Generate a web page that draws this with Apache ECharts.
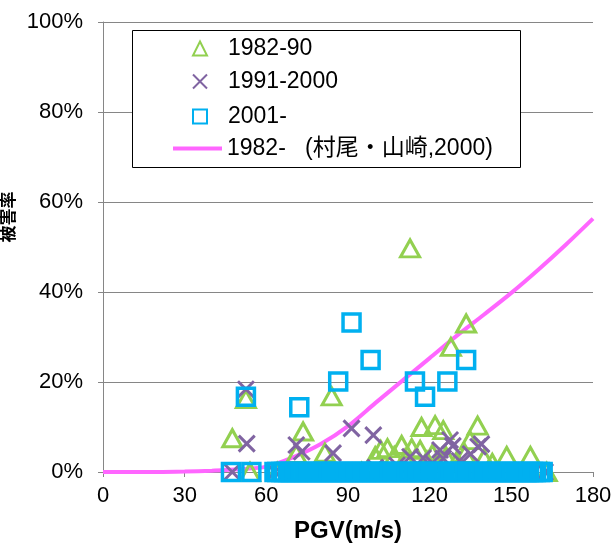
<!DOCTYPE html>
<html><head><meta charset="utf-8">
<script src="https://cdn.jsdelivr.net/npm/echarts@6/dist/echarts.min.js"></script>
<style>html,body{margin:0;padding:0;background:#fff;overflow:hidden}#c{width:614px;height:543px}</style>
</head><body><div id="c"></div>
<script>
// ---- data (PGV m/s, damage ratio %) ----
const xTicks = [0, 30, 60, 90, 120, 150, 180];
const yTicks = [0, 20, 40, 60, 80, 100];
const seriesNames = ['1982-90', '1991-2000', '2001-', '1982-   (村尾・山崎,2000)'];

const tri8290 = [
  [47.5,7.5],[52.5,16.2],[54,0],[64,0],[71,4],[73.5,9],[81.5,4.3],[84,16.8],[95,0],
  [100,3.5],[102,4.9],[104.5,5.3],[107,3.5],[109.7,6],[111,3],[113.4,5.3],[116.5,4.9],
  [119,2.5],[121,4],[123.5,3],[126,3.5],[130,2.5],[133,4],[134.8,7.1],[140,3],[143,2],
  [112.8,49.7],[133.4,33],[127.8,27.8],[117,10],[122,10.4],[125,9.3],[137.6,10.3],
  [148.3,3.6],[157,3.6],[130,0],[163,0]
];
const x9100 = [
  [47.5,0],[52.5,18.4],[52.8,6.3],[63.2,0],[71,6],[73,4.5],[84.5,4.2],[91.3,9.7],[99.3,8.2],
  [91.5,0],[100,1],[108,1.5],[112.8,3.4],[117.6,3.1],[121,2],[123.8,4.9],[125,3],[127.5,7.1],
  [128.5,5.8],[131,2.5],[135,4],[137.8,5.6],[139,6.2],[155,0],[162.4,0]
];
const sq2001 = [
  [47,0],[54.5,0],[52.5,16.7],[72.1,14.4],[86.4,20.1],[91.3,33.2],[98.3,24.9],[114.6,20.1],
  [118.3,16.7],[126.5,20.1],[133.4,24.9],
  [63,0],[64,0],[65.5,0],[66.5,0],[68,0],[69,0],[70.5,0],[71.5,0],[73,0],[74,0],[75.5,0],
  [76.5,0],[78,0],[79,0],[80.5,0],[81.5,0],[83,0],[84,0],[85.5,0],[86.5,0],[88,0],[89,0],
  [90.5,0],[91.5,0],[93,0],[94,0],[95.5,0],[96.5,0],[98,0],[99,0],[100.5,0],[101.5,0],
  [103,0],[104,0],[105.5,0],[106.5,0],[108,0],[109,0],[110.5,0],[111.5,0],[113,0],[114,0],
  [115.5,0],[116.5,0],[118,0],[119,0],[120.5,0],[121.5,0],[123,0],[124,0],[125.5,0],
  [126.5,0],[128,0],[129,0],[130.5,0],[131.5,0],[133,0],[134,0],[135.5,0],[136.5,0],
  [138,0],[139,0],[140.5,0],[141.5,0],[143,0],[144,0],[145.5,0],[146.5,0],[148,0],[149,0],
  [150.5,0],[151.5,0],[153,0],[154,0],[155.5,0],[156.5,0],[158,0],[159,0],[160.5,0],[161.5,0]
];
const curveX = [0,10,20,30,40,50,60,70,80,90,100,110,120,130,140,150,160,170,180];
const curveY = [0,0,0,0.1,0.3,0.6,1.2,3.3,6.2,10.2,15.3,20.3,25.3,30.3,35,39.8,45,50.5,56.3];

const GREEN = '#92D050', PURPLE = '#8064A2', CYAN = '#00B0F0', PINK = '#FF66FF', AXIS = '#868686';
const XPATH = 'path://M0,0 L10,10 M10,0 L0,10';
const FONT = 'Liberation Sans, Arial, sans-serif';

const chart = echarts.init(document.getElementById('c'), null, {renderer: 'canvas'});
const legendBase = (name, top, extra) => Object.assign({
  data: [name], left: 192, top: top, orient: 'vertical', padding: 0, z: 100,
  itemWidth: 14, itemHeight: 14, selectedMode: false,
  textStyle: {fontSize: 23, color: '#000', fontFamily: FONT + ', Noto Sans CJK JP', padding: [0, 0, 0, 16]},
  itemStyle: {borderWidth: 2}
}, extra || {});

chart.setOption({
  backgroundColor: '#fff',
  animation: false,
  grid: {left: 103, right: 21, top: 22, bottom: 71, containLabel: false, outerBoundsMode: 'none'},
  xAxis: {
    type: 'value', min: 0, max: 180, interval: 30,
    name: 'PGV(m/s)', nameLocation: 'middle', nameGap: 47,
    nameTextStyle: {fontSize: 24, fontWeight: 'bold', color: '#000', fontFamily: FONT},
    axisLine: {show: true, lineStyle: {color: AXIS, width: 1}},
    axisTick: {show: true, length: 5, lineStyle: {color: AXIS}},
    axisLabel: {fontSize: 22, color: '#000', margin: 13, fontFamily: FONT},
    splitLine: {show: false}
  },
  yAxis: {
    type: 'value', min: 0, max: 100, interval: 20,
    name: '被害率', nameLocation: 'middle', nameRotate: 90, nameGap: 78,
    nameTextStyle: {fontSize: 17, fontWeight: 'bold', color: '#000', fontFamily: 'Noto Sans CJK JP',
                    padding: [0, 0, 0, 60]},
    axisLine: {show: true, lineStyle: {color: AXIS, width: 1}},
    axisTick: {show: true, length: 5, lineStyle: {color: AXIS}},
    axisLabel: {fontSize: 22, color: '#000', margin: 20, formatter: '{value}%', fontFamily: FONT},
    splitLine: {show: true, lineStyle: {color: AXIS, width: 1}}
  },
  graphic: [
    {type: 'rect', left: 132, top: 30, z: 90,
     shape: {width: 388, height: 137}, style: {fill: '#fff', stroke: '#000', lineWidth: 1}}
  ],
  legend: [
    legendBase(seriesNames[0], 37),
    legendBase(seriesNames[1], 70),
    legendBase(seriesNames[2], 105),
    legendBase(seriesNames[3], 137, {left: 173, itemWidth: 49, itemHeight: 4,
      textStyle: {fontSize: 23, color: '#000', fontFamily: FONT + ', Noto Sans CJK JP'},
      data: [{name: seriesNames[3], icon: 'rect'}]})
  ],
  series: [
    {name: seriesNames[3], type: 'line', smooth: 0.3, symbol: 'none', z: 1,
     data: curveX.map((x, i) => [x, curveY[i]]),
     lineStyle: {color: PINK, width: 4}, itemStyle: {color: PINK}},
    {name: seriesNames[0], type: 'scatter', symbol: 'triangle', symbolSize: [19, 17], z: 2,
     data: tri8290, itemStyle: {color: 'rgba(0,0,0,0)', borderColor: GREEN, borderWidth: 3, opacity: 1}},
    {name: seriesNames[1], type: 'scatter', symbol: XPATH, symbolSize: 16, z: 3,
     data: x9100, itemStyle: {color: 'rgba(0,0,0,0)', borderColor: PURPLE, borderWidth: 3, opacity: 1}},
    {name: seriesNames[2], type: 'scatter', symbol: 'rect', symbolSize: 17, z: 4,
     data: sq2001, itemStyle: {color: 'rgba(0,0,0,0)', borderColor: CYAN, borderWidth: 3.5, opacity: 1}}
  ]
});
</script></body></html>
